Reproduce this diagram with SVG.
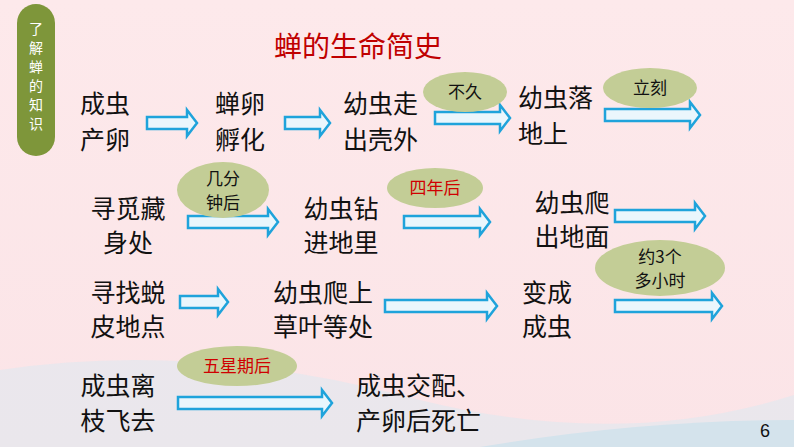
<svg xmlns="http://www.w3.org/2000/svg" width="794" height="447" viewBox="0 0 794 447">
<style>
.t{font-family:"Noto Sans CJK SC","Liberation Sans",sans-serif;font-size:25px;fill:#111}
.c{text-anchor:middle}
.a{fill:#eaf6fc;stroke:#1fa3db;stroke-width:2.5}
.e{fill:#c3cd96}
.l{font-family:"Noto Sans CJK SC",sans-serif;font-size:17px;fill:#111;text-anchor:middle}
</style>
<defs>
<linearGradient id="bg" x1="0" y1="0" x2="0" y2="1"><stop offset="0" stop-color="#fde9eb"/><stop offset="1" stop-color="#fbe4e7"/></linearGradient>
</defs>
<rect width="794" height="447" fill="url(#bg)"/>
<path d="M0 370 Q200 340 420 400 Q620 450 794 395 L794 447 L0 447Z" fill="#e6e7ee" opacity="0.8"/>
<path d="M480 447 Q640 420 794 420 L794 447Z" fill="#d4e3ec"/>
<g id="side"><rect x="17" y="4" width="38" height="152" rx="19" fill="#7e963a"/>
<text font-family="Noto Sans CJK SC,sans-serif" font-size="14" fill="#fff" text-anchor="middle"><tspan x="36" y="34">了</tspan><tspan x="36" y="53">解</tspan><tspan x="36" y="72">蝉</tspan><tspan x="36" y="91">的</tspan><tspan x="36" y="110">知</tspan><tspan x="36" y="129">识</tspan></text></g>
<text id="title" x="358" y="57" font-family="Noto Sans CJK SC,sans-serif" font-size="28" fill="#c00000" text-anchor="middle">蝉的生命简史</text>
<g id="connectors">
<path class="a" d="M147 117h40v-7l10 13l-10 13v-7h-40z"/>
<path class="a" d="M285 117h35v-7l10 13l-10 13v-7h-35z"/>
<path class="a" d="M435 112h65v-7l10 13l-10 13v-7h-65z"/>
<path class="a" d="M605 109h85v-7l10 13l-10 13v-7h-85z"/>
<path class="a" d="M188 216h80v-7l10 13l-10 13v-7h-80z"/>
<path class="a" d="M404 216h76v-7l10 13l-10 13v-7h-76z"/>
<path class="a" d="M615 210h80v-7l10 13l-10 13v-7h-80z"/>
<path class="a" d="M180 296h38v-7l10 13l-10 13v-7h-38z"/>
<path class="a" d="M385 300h102v-7l10 13l-10 13v-7h-102z"/>
<path class="a" d="M615 300h97v-7l10 13l-10 13v-7h-97z"/>
<path class="a" d="M178 397h144v-7l10 13l-10 13v-7h-144z"/>
</g>
<g id="labels">
<ellipse class="e" cx="465" cy="92" rx="42" ry="20"/><text class="l" x="465" y="98">不久</text>
<ellipse class="e" cx="650" cy="88" rx="47" ry="20"/><text class="l" x="650" y="94">立刻</text>
<ellipse class="e" cx="223" cy="190" rx="46" ry="28"/><text class="l" x="223" y="185">几分</text><text class="l" x="223" y="209">钟后</text>
<ellipse class="e" cx="435" cy="188" rx="48" ry="20"/><text class="l" x="435" y="194" style="fill:#d00000">四年后</text>
<ellipse class="e" cx="660" cy="268" rx="65" ry="28"/><text class="l" x="660" y="263">约3个</text><text class="l" x="660" y="287">多小时</text>
<ellipse class="e" cx="237" cy="366" rx="60" ry="20"/><text class="l" x="237" y="372" style="fill:#d00000">五星期后</text>
</g>
<g id="n1"><text class="t" x="80" y="113">成虫</text><text class="t" x="80" y="149">产卵</text></g>
<g id="n2"><text class="t" x="215" y="113">蝉卵</text><text class="t" x="215" y="149">孵化</text></g>
<g id="n3"><text class="t" x="343" y="113">幼虫走</text><text class="t" x="343" y="149">出壳外</text></g>
<g id="n4"><text class="t" x="518" y="107">幼虫落</text><text class="t" x="518" y="143">地上</text></g>
<g id="n5"><text class="t c" x="128" y="218">寻觅藏</text><text class="t c" x="128" y="252">身处</text></g>
<g id="n6"><text class="t c" x="341" y="218">幼虫钻</text><text class="t c" x="341" y="252">进地里</text></g>
<g id="n7"><text class="t c" x="572" y="212">幼虫爬</text><text class="t c" x="572" y="246">出地面</text></g>
<g id="n8"><text class="t c" x="128" y="302">寻找蜕</text><text class="t c" x="128" y="336">皮地点</text></g>
<g id="n9"><text class="t c" x="323" y="302">幼虫爬上</text><text class="t c" x="323" y="336">草叶等处</text></g>
<g id="n10"><text class="t c" x="547" y="302">变成</text><text class="t c" x="547" y="336">成虫</text></g>
<g id="n11"><text class="t c" x="118" y="395">成虫离</text><text class="t c" x="118" y="430">枝飞去</text></g>
<g id="n12"><text class="t" x="356" y="395">成虫交配、</text><text class="t" x="356" y="430">产卵后死亡</text></g>
<text x="765" y="437" font-family="Liberation Sans,sans-serif" font-size="18" fill="#111" text-anchor="middle">6</text>
</svg>
